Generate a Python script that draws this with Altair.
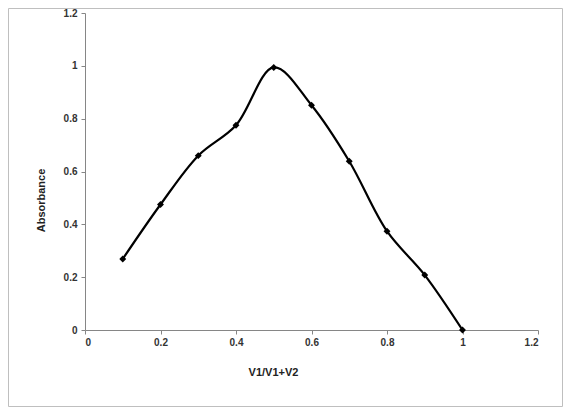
import altair as alt
import pandas as pd

ratio = [0.1, 0.2, 0.3, 0.4, 0.5, 0.6, 0.7, 0.8, 0.9, 1.0]
absorbance = [0.269, 0.475, 0.660, 0.775, 0.994, 0.851, 0.639, 0.374, 0.208, 0.0]
ticks = [0, 0.2, 0.4, 0.6, 0.8, 1.0, 1.2]

df = pd.DataFrame({"x": ratio, "y": absorbance})

FONT = "Liberation Sans"
AX = "#868686"

xenc = alt.X("x:Q", scale=alt.Scale(domain=[0, 1.2], nice=False, zero=False),
             axis=alt.Axis(values=ticks, format="~g", grid=False, title="V1/V1+V2",
                           domainColor=AX, tickColor=AX, tickSize=4, labelPadding=3,
                           labelFont=FONT, labelFontSize=10, labelFontWeight="bold",
                           labelColor="#333333", titleFont=FONT, titleFontSize=11,
                           titleFontWeight="bold", titleColor="#222222",
                           titleX=188, titleY=42, titleBaseline="middle", titleAnchor="middle",
                           titleAlign="center"))
yenc = alt.Y("y:Q", scale=alt.Scale(domain=[0, 1.2], nice=False, zero=False),
             axis=alt.Axis(values=ticks, format="~g", grid=False, title="Absorbance",
                           domainColor=AX, tickColor=AX, tickSize=4, labelPadding=4,
                           labelFont=FONT, labelFontSize=10, labelFontWeight="bold",
                           labelColor="#333333", titleFont=FONT, titleFontSize=11,
                           titleFontWeight="bold", titleColor="#222222",
                           titleX=-44, titleY=187, titleBaseline="middle", titleAngle=270,
                           titleAlign="center"))

line = alt.Chart(df).mark_line(interpolate="catmull-rom", color="black", strokeWidth=2.2).encode(
    x=xenc, y=yenc)
pts = alt.Chart(df).mark_point(shape="diamond", filled=True, color="black", size=48, opacity=1).encode(
    x="x:Q", y="y:Q")

border = alt.Chart(alt.Data(values=[{}])).mark_rect(
    fill="white", fillOpacity=0, stroke="#bfbfbf", strokeWidth=1).encode(
    x=alt.value(-76.5), x2=alt.value(477.5), y=alt.value(-4.5), y2=alt.value(393.5))

chart = alt.layer(border, line, pts).properties(
    width=453, height=317,
    padding={"left": 77, "top": 5, "right": 25, "bottom": 77},
    autosize="none",
).configure_view(stroke=None)

chart.save("out.html", embed_options={"renderer": "svg", "actions": False})
